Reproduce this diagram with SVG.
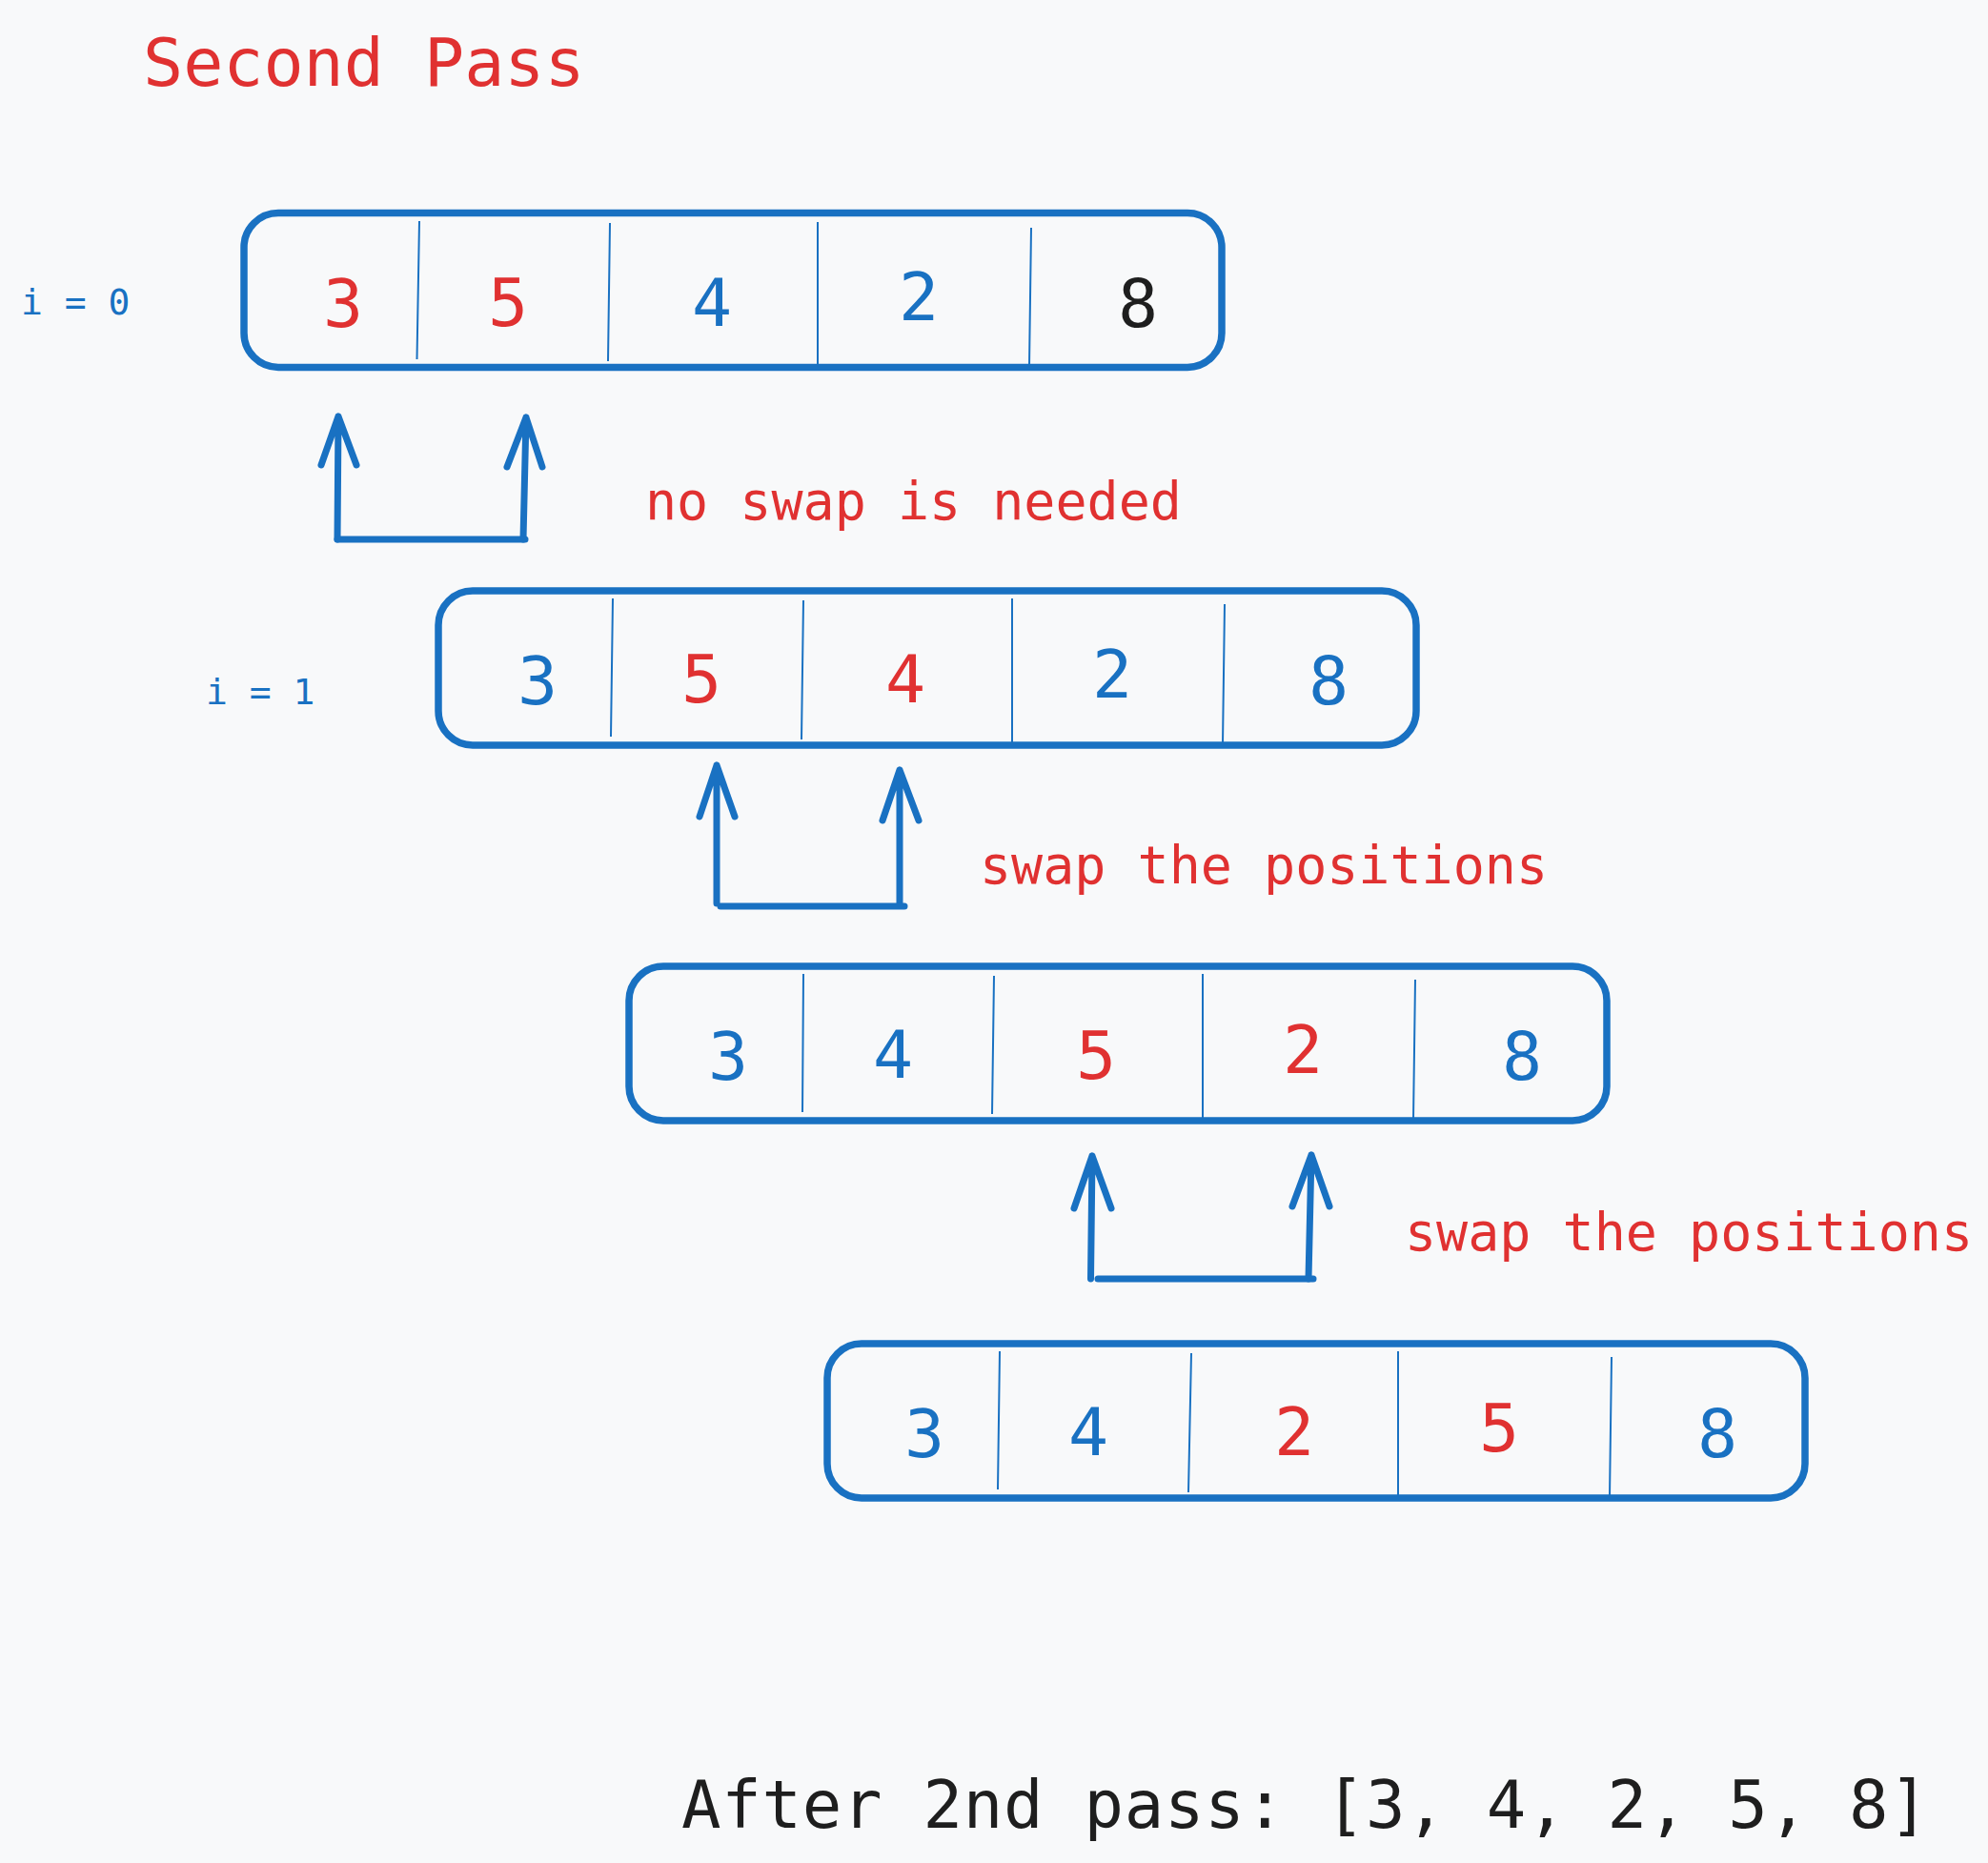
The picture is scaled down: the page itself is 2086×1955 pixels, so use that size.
<svg xmlns="http://www.w3.org/2000/svg" width="2086" height="1955" viewBox="0 0 2086 1955">
<style>
.bg{fill:#f8f9fa}
.box{fill:none;stroke:#1971c2;stroke-width:7.5;stroke-linejoin:round}
.div{stroke:#1971c2;stroke-width:2;fill:none}
.arr{fill:none;stroke:#1971c2;stroke-width:7;stroke-linecap:round;stroke-linejoin:round}
text{font-family:"DejaVu Sans Mono","Liberation Mono",monospace}
.d{font-size:70px;text-anchor:middle}
.r{fill:#e03131}
.b{fill:#1971c2}
.k{fill:#1e1e1e}
.lbl{font-size:38px;fill:#1971c2}
.note{font-size:55px;fill:#e03131}
</style>
<rect class="bg" x="0" y="0" width="2086" height="1955"/>
<text id="title" x="150" y="90" font-size="70" class="r">Second Pass</text>

<g id="row0">
<text class="lbl" x="22" y="330">i = 0</text>
<rect class="box" x="256" y="223.5" width="1026" height="162" rx="36"/>
<path class="div" d="M440 232 L437.5 377 M640 234 L638 379 M858 233 L858 385 M1082 239 L1080 385"/>
<text class="d r" x="360" y="343">3</text>
<text class="d r" x="533" y="342">5</text>
<text class="d b" x="747" y="342">4</text>
<text class="d b" x="964" y="336">2</text>
<text class="d k" x="1194" y="343">8</text>
</g>

<g id="row1">
<text class="lbl" x="216" y="739">i = 1</text>
<rect class="box" x="460" y="620" width="1026" height="162" rx="36"/>
<path class="div" d="M643 628 L641 773 M843 630 L841 776 M1062 628 L1062 781 M1285 634 L1283 781"/>
<text class="d b" x="564" y="739">3</text>
<text class="d r" x="736" y="737">5</text>
<text class="d r" x="950" y="737">4</text>
<text class="d b" x="1167" y="732">2</text>
<text class="d b" x="1394" y="739">8</text>
</g>

<g id="row2">
<rect class="box" x="660" y="1014" width="1026" height="162" rx="36"/>
<path class="div" d="M843 1022 L842 1167 M1043 1024 L1041 1169 M1262 1022 L1262 1175 M1485 1028 L1483 1175"/>
<text class="d b" x="764" y="1133">3</text>
<text class="d b" x="937" y="1131">4</text>
<text class="d r" x="1150" y="1132">5</text>
<text class="d r" x="1367" y="1126">2</text>
<text class="d b" x="1597" y="1133">8</text>
</g>

<g id="row3">
<rect class="box" x="868" y="1410" width="1026" height="162" rx="36"/>
<path class="div" d="M1049 1418 L1047 1563 M1250 1420 L1247 1566 M1467 1418 L1467 1571 M1691 1424 L1689 1571"/>
<text class="d b" x="970" y="1529">3</text>
<text class="d b" x="1142" y="1527">4</text>
<text class="d r" x="1358" y="1527">2</text>
<text class="d r" x="1573" y="1523">5</text>
<text class="d b" x="1802" y="1529">8</text>
</g>

<g id="connectors">
<path class="arr" d="M354 566 L355 437 M337 488 L355 437 L374 488"/>
<path class="arr" d="M549 566 L552 438 M532 490 L552 438 L569 490"/>
<path class="arr" d="M354 566 L551 566"/>

<path class="arr" d="M752 948 L752 803 M734 857 L752 803 L771 857"/>
<path class="arr" d="M944 950 L944 808 M926 861 L944 808 L964 861"/>
<path class="arr" d="M756 951 L949 951"/>

<path class="arr" d="M1144.5 1342 L1146 1213 M1127 1268 L1146 1213 L1166 1268"/>
<path class="arr" d="M1373 1342 L1376 1212 M1356 1266 L1376 1212 L1395 1266"/>
<path class="arr" d="M1152 1342 L1378 1342"/>
</g>

<text id="note0" class="note" x="677" y="545">no swap is needed</text>
<text id="note1" class="note" x="1028" y="927">swap the positions</text>
<text id="note2" class="note" x="1474" y="1312">swap the positions</text>

<text id="result" x="715" y="1918" font-size="69" letter-spacing="0.7" class="k">After 2nd pass: [3, 4, 2, 5, 8]</text>
</svg>
